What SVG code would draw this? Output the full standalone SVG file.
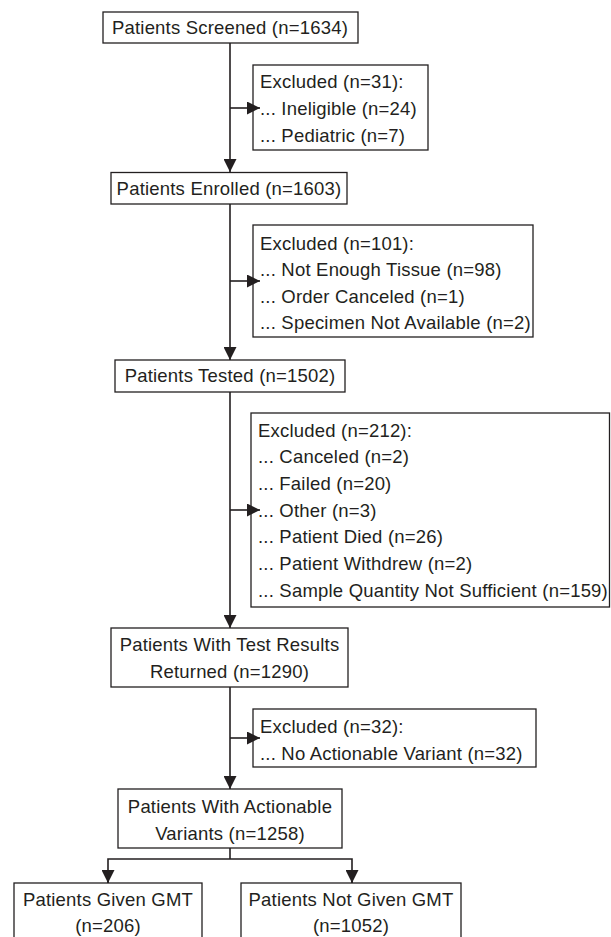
<svg xmlns="http://www.w3.org/2000/svg" width="611" height="937" viewBox="0 0 611 937">
<style>
.box{fill:#fff;stroke:#231f20;stroke-width:1.3}
.t{font-family:"Liberation Sans",Arial,Helvetica,sans-serif;font-size:18.5px;letter-spacing:0.2px;fill:#231f20}
.c{text-anchor:middle}
.ln{fill:none;stroke:#231f20;stroke-width:1.6}
</style>
<defs>
<marker id="ah" markerWidth="13" markerHeight="13" viewBox="0 0 13 13" refX="13" refY="6.5" orient="auto" markerUnits="userSpaceOnUse">
<path d="M0,0 L13,6.5 L0,13 Z" fill="#231f20"/>
</marker>
</defs>
<rect width="611" height="937" fill="#fff"/>
<g id="screened">
<rect class="box" x="103" y="12" width="255" height="31"/>
<text class="t c" x="230" y="33.5">Patients Screened (n=1634)</text>
</g>
<g id="excluded1">
<rect class="box" x="253" y="65" width="175" height="85"/>
<text class="t" x="260" y="88">Excluded (n=31):</text>
<text class="t" x="260" y="115">... Ineligible (n=24)</text>
<text class="t" x="260" y="141.5">... Pediatric (n=7)</text>
</g>
<g id="enrolled">
<rect class="box" x="111" y="172.5" width="236" height="31.5"/>
<text class="t c" x="229" y="194.5">Patients Enrolled (n=1603)</text>
</g>
<g id="excluded2">
<rect class="box" x="253" y="225" width="280" height="112"/>
<text class="t" x="260" y="249.5">Excluded (n=101):</text>
<text class="t" x="260" y="276">... Not Enough Tissue (n=98)</text>
<text class="t" x="260" y="302.7">... Order Canceled (n=1)</text>
<text class="t" x="260" y="329.4">... Specimen Not Available (n=2)</text>
</g>
<g id="tested">
<rect class="box" x="115" y="360" width="230" height="32"/>
<text class="t c" x="230" y="382">Patients Tested (n=1502)</text>
</g>
<g id="excluded3">
<rect class="box" x="251" y="413" width="358.5" height="194"/>
<text class="t" x="258" y="436.5">Excluded (n=212):</text>
<text class="t" x="258" y="463.2">... Canceled (n=2)</text>
<text class="t" x="258" y="489.9">... Failed (n=20)</text>
<text class="t" x="258" y="516.6">... Other (n=3)</text>
<text class="t" x="258" y="543.3">... Patient Died (n=26)</text>
<text class="t" x="258" y="570">... Patient Withdrew (n=2)</text>
<text class="t" x="258" y="596.7">... Sample Quantity Not Sufficient (n=159)</text>
</g>
<g id="results">
<rect class="box" x="111" y="628" width="237" height="59"/>
<text class="t c" x="229.5" y="651">Patients With Test Results</text>
<text class="t c" x="229.5" y="678">Returned (n=1290)</text>
</g>
<g id="excluded4">
<rect class="box" x="253" y="709" width="283" height="58"/>
<text class="t" x="260" y="733">Excluded (n=32):</text>
<text class="t" x="260" y="759.5">... No Actionable Variant (n=32)</text>
</g>
<g id="actionable">
<rect class="box" x="118" y="789" width="224" height="59"/>
<text class="t c" x="230" y="813">Patients With Actionable</text>
<text class="t c" x="230" y="840">Variants (n=1258)</text>
</g>
<g id="given">
<rect class="box" x="14" y="883" width="188" height="70"/>
<text class="t c" x="108" y="906">Patients Given GMT</text>
<text class="t c" x="108" y="932">(n=206)</text>
</g>
<g id="notgiven">
<rect class="box" x="241" y="883" width="220" height="70"/>
<text class="t c" x="351" y="906">Patients Not Given GMT</text>
<text class="t c" x="351" y="932">(n=1052)</text>
</g>
<g id="connectors">
<line class="ln" x1="230" y1="43" x2="230" y2="172" marker-end="url(#ah)"/>
<line class="ln" x1="230" y1="108" x2="260" y2="108" marker-end="url(#ah)"/>
<line class="ln" x1="230" y1="204" x2="230" y2="360" marker-end="url(#ah)"/>
<line class="ln" x1="230" y1="281" x2="260" y2="281" marker-end="url(#ah)"/>
<line class="ln" x1="230" y1="392" x2="230" y2="628" marker-end="url(#ah)"/>
<line class="ln" x1="230" y1="510" x2="260" y2="510" marker-end="url(#ah)"/>
<line class="ln" x1="230" y1="687" x2="230" y2="789" marker-end="url(#ah)"/>
<line class="ln" x1="230" y1="738" x2="260" y2="738" marker-end="url(#ah)"/>
<polyline class="ln" points="230,848 230,859"/>
<polyline class="ln" points="108,883 108,859 352,859 352,883"/>
<line class="ln" x1="108" y1="870" x2="108" y2="883" marker-end="url(#ah)"/>
<line class="ln" x1="352" y1="870" x2="352" y2="883" marker-end="url(#ah)"/>
</g>
</svg>
